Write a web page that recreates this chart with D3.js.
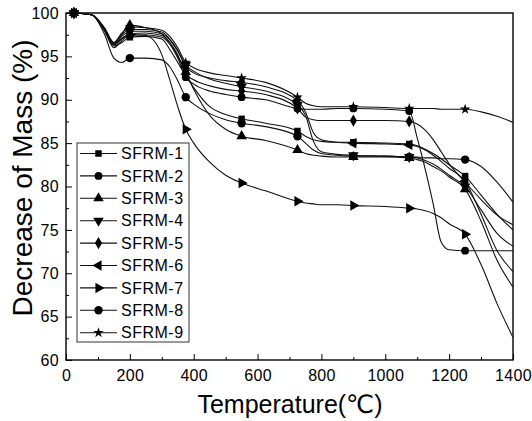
<!DOCTYPE html>
<html lang="en">
<head>
  <meta charset="UTF-8">
  <title>Decrease of Mass</title>
  <script src="https://d3js.org/d3.v7.min.js"></script>
  <style>
    body { margin: 0; background: #fff; }
    text { font-family: "Liberation Sans", Arial, "DejaVu Sans", sans-serif; fill: #000; }
    .axis path, .axis line { stroke: #000; }
  </style>
</head>
<body>
<svg class="tgsvg" width="532" height="421"></svg>
<script>
// temperatures (°C) shared by every curve
const temps = [25, 80, 120, 150, 175, 200, 250, 300, 325, 350, 375, 400, 450, 500, 550, 625, 725, 750, 775, 800, 850, 900, 1000, 1075, 1100, 1125, 1150, 1175, 1200, 1250, 1300, 1350, 1400];
// temperatures where symbols are drawn
const markerTemps = [25, 200, 375, 550, 725, 900, 1075, 1250];

const sfrm1 = [100, 99.8, 98.0, 96.2, 96.6, 97.2, 97.3, 97.0, 95.8, 94.3, 92.8, 91.4, 89.2, 88.3, 87.8, 87.3, 86.4, 85.8, 85.4, 85.2, 85.1, 85.1, 85.0, 84.9, 84.7, 84.3, 83.8, 83.2, 82.5, 81.2, 79.0, 76.8, 75.0];
const sfrm2 = [100, 99.8, 98.1, 96.3, 97.0, 97.4, 97.5, 97.2, 96.4, 94.8, 92.6, 91.8, 91.0, 90.6, 90.3, 90.0, 89.0, 88.9, 88.9, 88.9, 89.0, 89.0, 88.9, 88.7, 85.6, 82.0, 78.0, 73.6, 72.7, 72.6, 72.6, 72.6, 72.6];
const sfrm3 = [100, 99.8, 98.3, 96.5, 97.6, 98.6, 98.3, 97.6, 96.6, 95.0, 93.2, 91.2, 88.2, 86.6, 85.8, 85.3, 84.2, 83.8, 83.6, 83.5, 83.4, 83.4, 83.4, 83.3, 83.1, 82.8, 82.3, 81.8, 81.1, 79.7, 76.0, 71.5, 68.4];
const sfrm4 = [100, 99.8, 98.2, 96.4, 97.3, 97.9, 97.9, 97.6, 96.9, 95.6, 94.0, 93.3, 92.4, 91.9, 91.5, 91.0, 89.4, 88.2, 85.2, 84.0, 83.7, 83.6, 83.5, 83.4, 83.3, 83.0, 82.6, 82.0, 81.3, 80.0, 77.3, 74.6, 73.1];
const sfrm5 = [100, 99.8, 98.2, 96.4, 97.1, 97.6, 97.7, 97.4, 96.6, 95.2, 93.0, 92.3, 91.6, 91.2, 91.0, 90.6, 89.0, 88.0, 87.7, 87.6, 87.6, 87.6, 87.6, 87.5, 87.2, 86.5, 85.4, 84.0, 82.6, 80.5, 78.5, 76.7, 75.6];
const sfrm6 = [100, 99.8, 98.3, 96.6, 97.5, 98.1, 98.1, 97.8, 97.0, 95.7, 93.8, 93.1, 92.5, 92.2, 92.0, 91.5, 89.9, 88.6, 86.2, 85.4, 85.1, 85.0, 84.9, 84.8, 84.6, 84.2, 83.6, 82.9, 82.1, 80.6, 76.8, 72.6, 70.2];
const sfrm7 = [100, 99.8, 98.0, 96.0, 96.8, 97.5, 97.4, 95.2, 92.3, 89.2, 86.6, 85.0, 82.8, 81.3, 80.4, 79.5, 78.3, 78.1, 78.0, 77.9, 77.9, 77.8, 77.7, 77.5, 77.4, 77.2, 76.9, 76.4, 75.7, 74.5, 71.0, 66.5, 62.6];
const sfrm8 = [100, 99.8, 97.6, 94.8, 94.3, 94.8, 94.8, 94.6, 93.8, 92.2, 90.3, 89.5, 88.4, 87.7, 87.3, 86.9, 85.8, 85.0, 84.2, 83.8, 83.6, 83.5, 83.5, 83.4, 83.4, 83.3, 83.3, 83.2, 83.2, 83.1, 82.3, 80.5, 78.2];
const sfrm9 = [100, 99.8, 98.3, 96.6, 97.7, 98.4, 98.3, 98.0, 97.3, 96.0, 94.3, 93.7, 93.1, 92.8, 92.5, 92.0, 90.3, 89.6, 89.3, 89.2, 89.2, 89.2, 89.1, 89.0, 89.0, 89.0, 89.0, 88.9, 88.9, 88.9, 88.6, 88.1, 87.4];

const seriesNames = ['SFRM-1', 'SFRM-2', 'SFRM-3', 'SFRM-4', 'SFRM-5', 'SFRM-6', 'SFRM-7', 'SFRM-8', 'SFRM-9'];
const seriesValues = [sfrm1, sfrm2, sfrm3, sfrm4, sfrm5, sfrm6, sfrm7, sfrm8, sfrm9];

const xTicks = [0, 200, 400, 600, 800, 1000, 1200, 1400];
const yTicks = [60, 65, 70, 75, 80, 85, 90, 95, 100];

const svg = d3.select('svg.tgsvg');
const margins = { top: 13, right: 19, bottom: 61, left: 66 };
const width = +svg.attr('width');
const height = +svg.attr('height');
const chartWidth = width - margins.left - margins.right;
const chartHeight = height - margins.top - margins.bottom;

const xScale = d3.scaleLinear().domain([0, 1400]).range([0, chartWidth]);
const yScale = d3.scaleLinear().domain([60, 100]).range([chartHeight, 0]);

const chartArea = svg.append('g')
  .attr('transform', `translate(${margins.left},${margins.top})`);

// symbols: square, circle, up tri, down tri, diamond, left tri, right tri, circle, star
const shapes = [
  { type: d3.symbolSquare, size: 42, rot: 0 },
  { type: d3.symbolCircle, size: 48, rot: 0 },
  { type: d3.symbolTriangle, size: 48, rot: 0 },
  { type: d3.symbolTriangle, size: 48, rot: 180 },
  { type: d3.symbolDiamond, size: 44, rot: 0 },
  { type: d3.symbolTriangle, size: 48, rot: -90 },
  { type: d3.symbolTriangle, size: 48, rot: 90 },
  { type: d3.symbolCircle, size: 56, rot: 0 },
  { type: d3.symbolStar, size: 34, rot: 0 }
];

// minor ticks
chartArea.append('g').attr('class', 'axis')
  .attr('transform', `translate(0,${chartHeight})`)
  .call(d3.axisBottom(xScale).tickValues(d3.range(100, 1400, 200)).tickSize(-3).tickFormat(''));
chartArea.append('g').attr('class', 'axis')
  .call(d3.axisLeft(yScale).tickValues(d3.range(62.5, 100, 5)).tickSize(-3).tickFormat(''));

// major ticks
chartArea.append('g').attr('class', 'axis')
  .attr('transform', `translate(0,${chartHeight})`)
  .call(d3.axisBottom(xScale).tickValues(xTicks).tickFormat(d3.format('d')).tickSize(-6).tickPadding(10));
chartArea.append('g').attr('class', 'axis')
  .call(d3.axisLeft(yScale).tickValues(yTicks).tickSize(-6).tickPadding(7));

svg.selectAll('.axis text')
  .attr('font-family', null)
  .style('font-size', '16px')
  .style('letter-spacing', '0.3px');
svg.selectAll('.axis path.domain').remove();

// frame
chartArea.append('rect')
  .attr('width', chartWidth)
  .attr('height', chartHeight)
  .attr('fill', 'none')
  .attr('stroke', '#000')
  .attr('stroke-width', 1.4);

const line = d3.line()
  .x((d, i) => xScale(temps[i]))
  .y(d => yScale(d))
  .curve(d3.curveMonotoneX);

seriesValues.forEach((vals, s) => {
  chartArea.append('path')
    .attr('d', line(vals))
    .attr('fill', 'none')
    .attr('stroke', '#111')
    .attr('stroke-width', 1.1);
});

seriesValues.forEach((vals, s) => {
  const sh = shapes[s];
  const sym = d3.symbol().type(sh.type).size(sh.size);
  temps.forEach((t, i) => {
    if (markerTemps.indexOf(t) < 0) return;
    chartArea.append('path')
      .attr('d', sym())
      .attr('transform', `translate(${xScale(t)},${yScale(vals[i])}) rotate(${sh.rot})`)
      .attr('fill', '#000');
  });
});

// legend
const legend = svg.append('g').attr('transform', 'translate(77,143)');
legend.append('rect')
  .attr('width', 112).attr('height', 199)
  .attr('fill', '#fff').attr('stroke', '#333').attr('stroke-width', 1);
seriesNames.forEach((name, i) => {
  const y = 10.5 + i * 22.4;
  legend.append('line')
    .attr('x1', 3).attr('x2', 40).attr('y1', y).attr('y2', y)
    .attr('stroke', '#111').attr('stroke-width', 1.1);
  const sh = shapes[i];
  legend.append('path')
    .attr('d', d3.symbol().type(sh.type).size(sh.size)())
    .attr('transform', `translate(21.5,${y}) rotate(${sh.rot})`)
    .attr('fill', '#000');
  legend.append('text')
    .attr('x', 44).attr('y', y)
    .attr('dy', '0.36em')
    .style('font-size', '16px')
    .style('letter-spacing', '0.5px')
    .text(name);
});

// axis titles
svg.append('text')
  .attr('transform', 'translate(32,178) rotate(-90)')
  .attr('text-anchor', 'middle')
  .style('font-size', '28px')
  .text('Decrease of Mass (%)');
svg.append('text')
  .attr('x', 290).attr('y', 413)
  .attr('text-anchor', 'middle')
  .style('font-size', '25px')
  .text('Temperature(℃)');
</script>
</body>
</html>
